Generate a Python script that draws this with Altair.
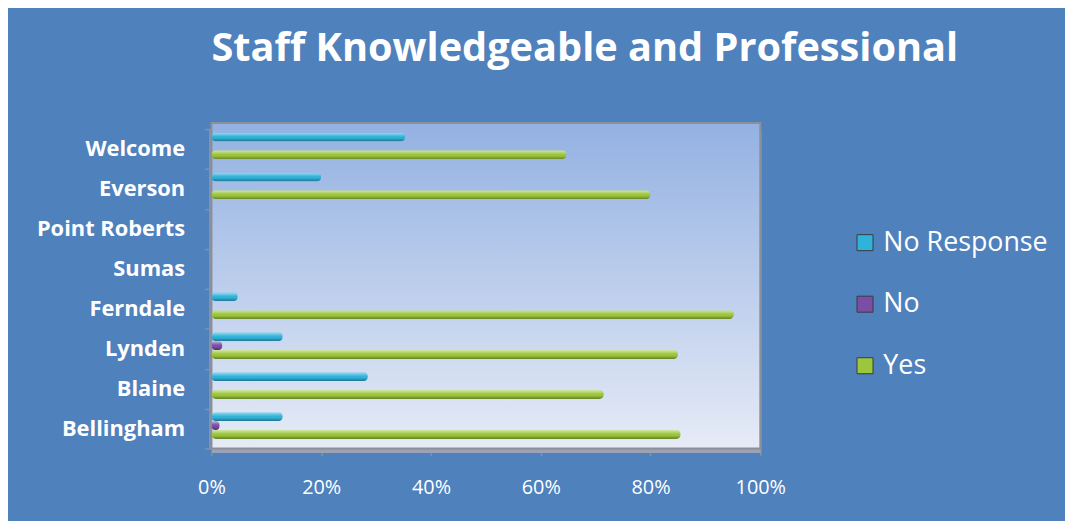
import altair as alt
import pandas as pd

categories = ["Bellingham", "Blaine", "Lynden", "Ferndale", "Sumas", "Point Roberts", "Everson", "Welcome"]
series = ["No Response", "No", "Yes"]
no_response = [0.13, 0.285, 0.13, 0.048, 0.0, 0.0, 0.20, 0.353]
no_vals = [0.015, 0.0, 0.02, 0.0, 0.0, 0.0, 0.0, 0.0]
yes_vals = [0.855, 0.715, 0.85, 0.952, 0.0, 0.0, 0.80, 0.647]
x_ticks = [0, 0.2, 0.4, 0.6, 0.8, 1.0]
colors = ["#2fb3db", "#7a4da6", "#9cc63b"]

rows = []
for i, c in enumerate(categories):
    for s, vals in zip(series, [no_response, no_vals, yes_vals]):
        rows.append({"site": c, "series": s, "value": vals[i]})
df = pd.DataFrame(rows)

W, H = 553, 322
FONT = "Open Sans"
GRID = "#8a8f99"
BAR = 9

y_enc = alt.Y("site:N", sort=categories[::-1],
              scale=alt.Scale(paddingInner=0, paddingOuter=0),
              axis=alt.Axis(title=None, labelFontSize=22, labelFont=FONT, labelFontWeight="bold",
                            labelColor="white", tickBand="extent", tickColor=GRID, tickSize=7,
                            tickWidth=1.5, domainColor="#8792a6", domainWidth=6, labelPadding=20,
                            labelLimit=0, grid=False))
x_enc = alt.X("value:Q", scale=alt.Scale(domain=[0, 1], nice=False),
              axis=alt.Axis(title=None, format=".0%", values=x_ticks, labelFontSize=20, labelFont=FONT,
                            labelColor="white", tickColor=GRID, tickSize=7, tickWidth=1.5,
                            domainColor="#9aa2b3", domainWidth=8, labelPadding=22, labelFlush=False,
                            grid=True, gridColor=GRID, gridWidth=2))
yoff = alt.YOffset("series:N", sort=series,
                   scale=alt.Scale(domain=series, paddingInner=0, paddingOuter=0.736, align=0.264))

bg = alt.Chart(pd.DataFrame({"a": [0]})).mark_rect(
    color=alt.LinearGradient(gradient="linear", x1=0, x2=0, y1=0, y2=1,
                             stops=[alt.GradientStop(color="#93b1e2", offset=0),
                                    alt.GradientStop(color="#e6ebf6", offset=1)]),
    stroke=GRID, strokeWidth=2
).encode(x=alt.value(0), x2=alt.value(W), y=alt.value(-6), y2=alt.value(H))

bars = alt.Chart(df).mark_bar(size=BAR, cornerRadius=4.5).encode(
    x=x_enc, y=y_enc, yOffset=yoff,
    color=alt.Color("series:N", sort=series,
                    scale=alt.Scale(domain=series, range=colors),
                    legend=alt.Legend(title=None, orient="none", legendX=645, legendY=101,
                                      symbolType="square", symbolSize=260, symbolStrokeWidth=1,
                                      symbolStrokeColor="#3a3a3a", labelLimit=0,
                                      labelFontSize=27, labelFont=FONT, labelColor="white",
                                      rowPadding=34, labelOffset=5))
)

gloss = alt.Chart(df).mark_bar(
    size=BAR, cornerRadius=4.5,
    color=alt.LinearGradient(gradient="linear", x1=0, x2=0, y1=0, y2=1,
                             stops=[alt.GradientStop(color="rgba(255,255,255,0.55)", offset=0),
                                    alt.GradientStop(color="rgba(255,255,255,0.08)", offset=0.4),
                                    alt.GradientStop(color="rgba(0,0,0,0)", offset=0.6),
                                    alt.GradientStop(color="rgba(0,0,0,0.35)", offset=1)])
).encode(x=x_enc, y=y_enc, yOffset=yoff)

chart = alt.layer(bg, bars, gloss).properties(
    width=W, height=H,
    background="#4f81bd",
    padding={"left": 205, "top": 120, "right": 307, "bottom": 71},
    autosize=alt.AutoSizeParams(type="none"),
    title=alt.TitleParams("Staff Knowledgeable and Professional", anchor="start", frame="group",
                          fontSize=40, font=FONT, fontWeight="bold", color="white", offset=50)
).configure_view(stroke=None)

chart.save("out.html", embed_options={"renderer": "svg", "actions": False})
